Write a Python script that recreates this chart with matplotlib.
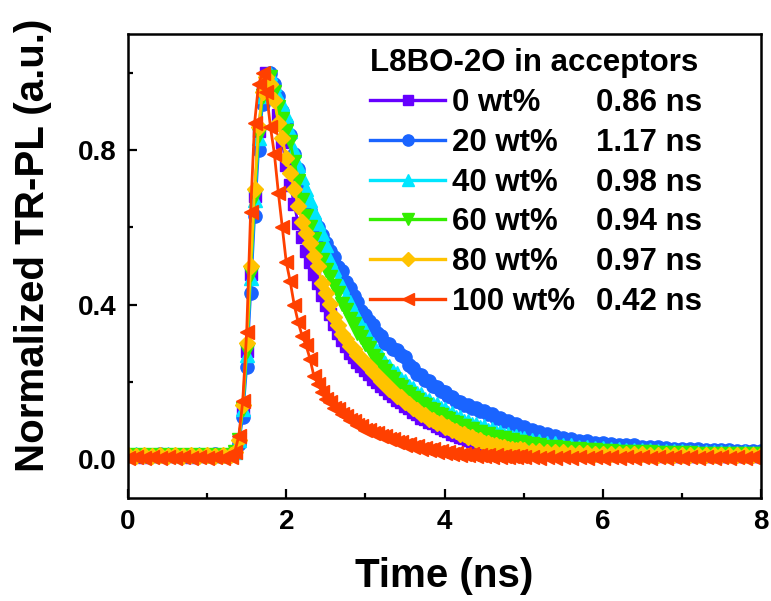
import matplotlib
matplotlib.use('Agg')
import matplotlib.pyplot as plt
from matplotlib.ticker import MultipleLocator

plt.rcParams['font.family'] = ['Liberation Sans', 'DejaVu Sans']
plt.rcParams['font.weight'] = 'bold'

# ---------------- data ----------------
time_ns = [0.0, 0.1, 0.2, 0.3, 0.4, 0.5, 0.6, 0.7, 0.8, 0.9, 1.0, 1.1, 1.2, 1.3,
           1.35, 1.4, 1.45, 1.5, 1.55, 1.6, 1.65, 1.7, 1.75, 1.8,
           1.85, 1.9, 1.95, 2.0, 2.05, 2.1, 2.15, 2.2, 2.25, 2.3, 2.35, 2.4, 2.45, 2.5,
           2.55, 2.6, 2.65, 2.7, 2.75, 2.8, 2.85, 2.9, 2.95, 3.0,
           3.05, 3.1, 3.15, 3.2, 3.25, 3.3, 3.35, 3.4, 3.45, 3.5,
           3.55, 3.6, 3.65, 3.7, 3.75, 3.8, 3.85, 3.9, 3.95, 4.0,
           4.05, 4.1, 4.15, 4.2, 4.25, 4.3, 4.35, 4.4, 4.45, 4.5,
           4.55, 4.6, 4.65, 4.7, 4.75, 4.8, 4.85, 4.9, 4.95, 5.0,
           5.1, 5.2, 5.3, 5.4, 5.5, 5.6, 5.7, 5.8, 5.9, 6.0,
           6.1, 6.2, 6.3, 6.4, 6.5, 6.6, 6.7, 6.8, 6.9, 7.0,
           7.1, 7.2, 7.3, 7.4, 7.5, 7.6, 7.7, 7.8, 7.9, 8.0]

pl_0wt = [0.008, 0.010, 0.007, 0.009, 0.011, 0.008, 0.010, 0.009, 0.007, 0.010, 0.009, 0.011, 0.008, 0.012,
          0.02, 0.05, 0.13, 0.28, 0.48, 0.68, 0.85, 0.95, 1.0, 0.99,
          0.95, 0.89, 0.82, 0.76, 0.71, 0.66, 0.61, 0.575, 0.54, 0.51, 0.48, 0.455, 0.425, 0.40,
          0.375, 0.35, 0.328, 0.308, 0.293, 0.276, 0.265, 0.252, 0.242, 0.231,
          0.221, 0.209, 0.200, 0.189, 0.181, 0.171, 0.164, 0.154, 0.147, 0.138,
          0.132, 0.122, 0.117, 0.108, 0.104, 0.096, 0.093, 0.085, 0.082, 0.075,
          0.072, 0.066, 0.063, 0.057, 0.055, 0.049, 0.047, 0.042, 0.040, 0.036,
          0.035, 0.031, 0.030, 0.027, 0.026, 0.023, 0.023, 0.021, 0.020, 0.018,
          0.017, 0.016, 0.015, 0.014, 0.014, 0.013, 0.013, 0.012, 0.012, 0.011,
          0.011, 0.010, 0.011, 0.010, 0.010, 0.010, 0.009, 0.010, 0.009, 0.009,
          0.009, 0.009, 0.008, 0.009, 0.009, 0.008, 0.008, 0.009, 0.008, 0.008]

pl_20wt = [0.010, 0.012, 0.009, 0.011, 0.013, 0.010, 0.012, 0.011, 0.009, 0.012, 0.010, 0.013, 0.011, 0.014,
           0.02, 0.04, 0.11, 0.24, 0.43, 0.63, 0.80, 0.92, 0.98, 1.0,
           0.97, 0.94, 0.90, 0.87, 0.84, 0.79, 0.75, 0.70, 0.67, 0.645, 0.62, 0.60, 0.58, 0.56,
           0.54, 0.522, 0.498, 0.487, 0.458, 0.442, 0.423, 0.408, 0.383, 0.372,
           0.358, 0.347, 0.326, 0.318, 0.301, 0.297, 0.286, 0.283, 0.270, 0.265,
           0.243, 0.237, 0.221, 0.217, 0.205, 0.202, 0.190, 0.187, 0.176, 0.174,
           0.163, 0.160, 0.150, 0.149, 0.140, 0.140, 0.133, 0.133, 0.124, 0.124,
           0.117, 0.117, 0.108, 0.107, 0.100, 0.100, 0.091, 0.091, 0.083, 0.083,
           0.076, 0.071, 0.065, 0.061, 0.055, 0.053, 0.048, 0.047, 0.043, 0.041,
           0.039, 0.038, 0.036, 0.036, 0.033, 0.033, 0.031, 0.030, 0.028, 0.028,
           0.027, 0.027, 0.025, 0.025, 0.023, 0.024, 0.022, 0.022, 0.021, 0.021]

pl_40wt = [0.011, 0.013, 0.010, 0.012, 0.010, 0.013, 0.011, 0.012, 0.010, 0.013, 0.011, 0.012, 0.010, 0.013,
           0.02, 0.05, 0.13, 0.27, 0.47, 0.67, 0.83, 0.94, 0.99, 1.0,
           0.97, 0.94, 0.92, 0.89, 0.85, 0.80, 0.76, 0.73, 0.70, 0.67, 0.64, 0.61, 0.585, 0.555,
           0.515, 0.492, 0.463, 0.447, 0.423, 0.407, 0.383, 0.367, 0.348, 0.335,
           0.310, 0.297, 0.278, 0.267, 0.250, 0.242, 0.228, 0.222, 0.208, 0.202,
           0.189, 0.184, 0.172, 0.168, 0.157, 0.154, 0.144, 0.142, 0.132, 0.130,
           0.120, 0.119, 0.110, 0.109, 0.100, 0.100, 0.092, 0.092, 0.084, 0.085,
           0.077, 0.078, 0.070, 0.071, 0.064, 0.066, 0.059, 0.061, 0.054, 0.056,
           0.050, 0.047, 0.043, 0.041, 0.037, 0.036, 0.033, 0.032, 0.030, 0.029,
           0.027, 0.027, 0.025, 0.025, 0.023, 0.023, 0.022, 0.022, 0.021, 0.021,
           0.020, 0.020, 0.019, 0.019, 0.018, 0.019, 0.017, 0.018, 0.017, 0.017]

pl_60wt = [0.009, 0.011, 0.008, 0.010, 0.009, 0.011, 0.008, 0.010, 0.009, 0.011, 0.008, 0.010, 0.009, 0.011,
           0.02, 0.05, 0.13, 0.28, 0.48, 0.68, 0.84, 0.94, 0.98, 0.99,
           0.95, 0.91, 0.88, 0.85, 0.82, 0.77, 0.72, 0.67, 0.63, 0.60, 0.57, 0.545, 0.515, 0.49,
           0.472, 0.448, 0.429, 0.403, 0.387, 0.363, 0.349, 0.328, 0.317, 0.298,
           0.287, 0.268, 0.257, 0.238, 0.229, 0.213, 0.207, 0.193, 0.188, 0.175,
           0.170, 0.158, 0.154, 0.143, 0.140, 0.129, 0.127, 0.117, 0.115, 0.106,
           0.105, 0.096, 0.095, 0.087, 0.087, 0.079, 0.079, 0.071, 0.071, 0.064,
           0.065, 0.058, 0.059, 0.053, 0.054, 0.048, 0.050, 0.044, 0.046, 0.041,
           0.039, 0.036, 0.033, 0.031, 0.029, 0.027, 0.026, 0.024, 0.023, 0.022,
           0.021, 0.020, 0.019, 0.019, 0.018, 0.018, 0.017, 0.017, 0.016, 0.016,
           0.016, 0.015, 0.015, 0.015, 0.014, 0.014, 0.014, 0.014, 0.013, 0.013]

pl_80wt = [0.010, 0.008, 0.011, 0.009, 0.010, 0.008, 0.011, 0.009, 0.010, 0.008, 0.011, 0.009, 0.010, 0.012,
           0.02, 0.05, 0.14, 0.30, 0.50, 0.70, 0.86, 0.95, 0.99, 0.97,
           0.93, 0.87, 0.83, 0.78, 0.74, 0.70, 0.655, 0.615, 0.585, 0.56, 0.525, 0.50, 0.455, 0.43,
           0.402, 0.368, 0.347, 0.323, 0.312, 0.293, 0.285, 0.270, 0.262, 0.248,
           0.242, 0.226, 0.218, 0.203, 0.197, 0.183, 0.177, 0.164, 0.160, 0.148,
           0.144, 0.132, 0.128, 0.116, 0.114, 0.105, 0.103, 0.094, 0.093, 0.084,
           0.083, 0.075, 0.074, 0.066, 0.065, 0.057, 0.057, 0.049, 0.049, 0.042,
           0.043, 0.036, 0.037, 0.031, 0.032, 0.027, 0.028, 0.024, 0.026, 0.023,
           0.022, 0.021, 0.020, 0.019, 0.018, 0.017, 0.016, 0.016, 0.015, 0.015,
           0.014, 0.014, 0.013, 0.013, 0.013, 0.012, 0.012, 0.012, 0.012, 0.011,
           0.011, 0.011, 0.011, 0.010, 0.010, 0.010, 0.010, 0.010, 0.010, 0.010]

pl_100wt = [0.004, 0.006, 0.003, 0.005, 0.004, 0.006, 0.003, 0.005, 0.004, 0.006, 0.003, 0.005, 0.004, 0.006,
            0.02, 0.06, 0.15, 0.33, 0.64, 0.87, 0.97, 1.0, 0.95, 0.86,
            0.79, 0.69, 0.60, 0.51, 0.46, 0.40, 0.355, 0.32, 0.295, 0.26, 0.215, 0.195, 0.175, 0.155,
            0.148, 0.133, 0.129, 0.116, 0.112, 0.101, 0.099, 0.089, 0.086, 0.077,
            0.077, 0.069, 0.068, 0.060, 0.060, 0.052, 0.052, 0.044, 0.045, 0.038,
            0.039, 0.032, 0.034, 0.028, 0.030, 0.024, 0.026, 0.020, 0.022, 0.017,
            0.020, 0.015, 0.017, 0.012, 0.015, 0.010, 0.014, 0.009, 0.012, 0.008,
            0.011, 0.007, 0.010, 0.006, 0.009, 0.005, 0.008, 0.005, 0.008, 0.005,
            0.005, 0.004, 0.006, 0.004, 0.005, 0.003, 0.005, 0.004, 0.006, 0.004,
            0.005, 0.003, 0.005, 0.004, 0.005, 0.004, 0.006, 0.004, 0.005, 0.003,
            0.005, 0.004, 0.005, 0.004, 0.006, 0.004, 0.005, 0.003, 0.005, 0.004]

series_labels = ['0 wt%', '20 wt%', '40 wt%', '60 wt%', '80 wt%', '100 wt%']
lifetimes = ['0.86 ns', '1.17 ns', '0.98 ns', '0.94 ns', '0.97 ns', '0.42 ns']
series_values = [pl_0wt, pl_20wt, pl_40wt, pl_60wt, pl_80wt, pl_100wt]
legend_title = 'L8BO-2O in acceptors'
x_ticks = [0, 2, 4, 6, 8]
y_ticks = [0.0, 0.4, 0.8]

# ---------------- styling ----------------
colors = ['#6600FF', '#1A64FF', '#00E6FF', '#33EE00', '#FFC300', '#FF4000']
markers = ['s', 'o', '^', 'v', 'D', '<']
msizes = [8.5, 9.5, 10, 10, 8.5, 10]

fig = plt.figure(figsize=(7.71, 6.01), dpi=100)
ax = fig.add_axes([128 / 771, 1 - 498 / 601, 633 / 771, 464 / 601])

handles = []
for lab, vals, c, m, ms in zip(series_labels, series_values, colors, markers, msizes):
    h, = ax.plot(time_ns, vals, color=c, marker=m, ms=ms, mec=c, mfc=c, lw=2.0, label=lab)
    handles.append(h)

ax.set_xlim(0, 8)
ax.set_ylim(-0.1, 1.1)
ax.set_xticks(x_ticks)
ax.set_xticklabels([f'{v:d}' for v in x_ticks])
ax.set_yticks(y_ticks)
ax.set_yticklabels([f'{v:.1f}' for v in y_ticks])
ax.xaxis.set_minor_locator(MultipleLocator(1))
ax.yaxis.set_minor_locator(MultipleLocator(0.2))
ax.tick_params(which='major', direction='in', length=6.5, width=1.6, labelsize=20, pad=8)
ax.tick_params(which='minor', direction='in', length=3.5, width=1.6)
for lbl in ax.get_xticklabels() + ax.get_yticklabels():
    lbl.set_fontweight('bold')
for sp in ax.spines.values():
    sp.set_linewidth(1.8)

ax.set_xlabel('Time (ns)', fontsize=29, fontweight='bold')
ax.set_ylabel('Normalized TR-PL (a.u.)', fontsize=29, fontweight='bold')
ax.xaxis.set_label_coords(0.5, -0.168)
ax.xaxis.label.set_va('center')
ax.yaxis.set_label_coords(-0.15, 0.545)
ax.yaxis.label.set_va('center')

leg = ax.legend(handles=handles, labels=series_labels, title=legend_title,
                loc='upper left', bbox_to_anchor=((370 - 128) / 633, (498 - 48) / 464),
                frameon=False, borderpad=0, borderaxespad=0, handlelength=2.4,
                handletextpad=0.22, labelspacing=0.315, fontsize=22.5, title_fontsize=22.5,
                alignment='left', markerscale=0.85)
leg.get_title().set_fontweight('bold')
for txt in leg.get_texts():
    txt.set_fontweight('bold')
for lh in leg.get_lines():
    lh.set_linewidth(2.4)

fig.canvas.draw()
renderer = fig.canvas.get_renderer()
for txt, lt in zip(leg.get_texts(), lifetimes):
    bb = txt.get_window_extent(renderer)
    fig.text(596 / 771, bb.y0 / fig.bbox.height, lt, fontsize=22.5, fontweight='bold',
             ha='left', va='bottom')

fig.savefig('out.png', dpi=100)
